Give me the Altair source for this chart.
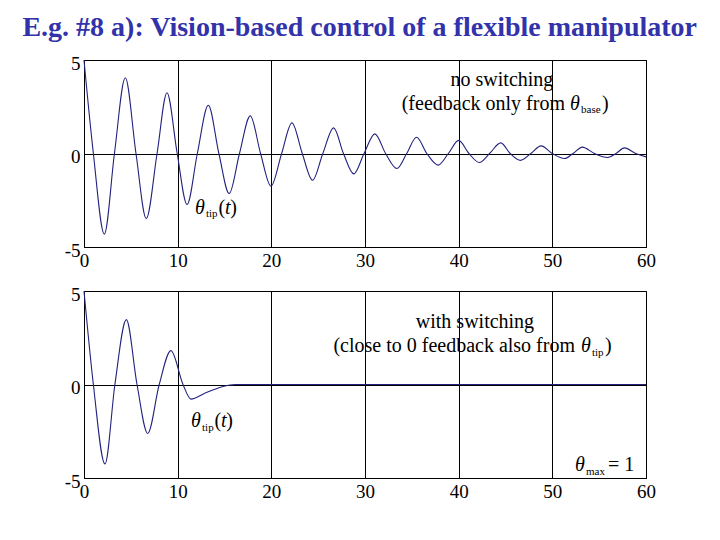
import altair as alt
import pandas as pd

FONT = "'Liberation Serif', 'Times New Roman', Times, serif"
LINE_COLOR = "#22227e"
TITLE_COLOR = "#3232aa"

X_TICKS = [0, 10, 20, 30, 40, 50, 60]
Y_TICKS = [-5, 0, 5]

# Top panel: no switching (extrema and zero crossings)
t_top = [0, 1.0, 2.17, 3.25, 4.41, 5.55, 6.65, 7.8, 8.86, 9.95, 11.0, 12.1, 13.27, 14.4,
         15.5, 16.6, 17.75, 18.85, 19.96, 21.1, 22.2, 23.3, 24.4, 25.5, 26.65, 27.7,
         28.8, 29.9, 31.05, 32.2, 33.4, 34.45, 35.5, 36.6, 37.8, 38.9, 40.0, 41.1,
         42.2, 43.3, 44.5, 45.5, 46.6, 47.7, 48.8, 50.0, 51.3, 52.2, 53.2, 54.5,
         55.9, 56.8, 57.7, 58.9, 60]
y_top = [5.0, 0, -4.31, 0, 4.05, 0, -3.48, 0, 3.25, 0, -2.73, 0, 2.58, 0,
         -2.14, 0, 2.01, 0, -1.75, 0, 1.64, 0, -1.43, 0, 1.37, 0,
         -1.09, 0, 1.05, 0, -0.80, 0, 0.87, 0, -0.62, 0, 0.70, 0,
         -0.48, 0, 0.57, 0, -0.37, 0, 0.41, 0, -0.27, 0, 0.34, 0,
         -0.21, 0, 0.30, 0, -0.18]

# Bottom panel: with switching
t_bot = [0, 1.0, 2.24, 3.3, 4.52, 5.66, 6.8, 8.03, 9.28, 10.57, 11.42, 12.85, 14.27, 15.4, 16.2, 60]
y_bot = [5.0, 0, -4.25, 0, 3.47, 0, -2.62, 0, 1.81, 0, -0.78, -0.48, -0.20, -0.04, 0, 0]

# Annotation pieces: text, t, y, style, align, size
ann_top = [
    ("no switching", 44.62, 3.63, "normal", "center", 20),
    ("(feedback only from", 51.35, 2.35, "normal", "right", 20),
    ("θ", 51.88, 2.35, "italic", "left", 20),
    ("base", 53.06, 2.14, "normal", "left", 11),
    (")", 55.3, 2.35, "normal", "left", 20),
    ("θ", 11.85, -3.24, "italic", "left", 20),
    ("tip", 13.02, -3.42, "normal", "left", 11),
    ("(", 14.35, -3.24, "normal", "left", 20),
    ("t", 15.05, -3.24, "italic", "left", 20),
    (")", 15.62, -3.24, "normal", "left", 20),
]
ann_bot = [
    ("with switching", 41.74, 3.0, "normal", "center", 20),
    ("(close to 0 feedback also from", 52.42, 1.73, "normal", "right", 20),
    ("θ", 53.06, 1.73, "italic", "left", 20),
    ("tip", 54.23, 1.53, "normal", "left", 11),
    (")", 55.62, 1.73, "normal", "left", 20),
    ("θ", 11.42, -2.26, "italic", "left", 20),
    ("tip", 12.6, -2.46, "normal", "left", 11),
    ("(", 13.93, -2.26, "normal", "left", 20),
    ("t", 14.63, -2.26, "italic", "left", 20),
    (")", 15.2, -2.26, "normal", "left", 20),
    ("θ", 52.42, -4.65, "italic", "left", 20),
    ("max", 53.59, -4.85, "normal", "left", 11),
    ("= 1", 55.94, -4.65, "normal", "left", 20),
]


def panel(t, y, pieces):
    df = pd.DataFrame({"t": t, "y": y})
    x_enc = alt.X("t:Q", title=None,
                  scale=alt.Scale(domain=[0, 60], nice=False, zero=False),
                  axis=alt.Axis(values=X_TICKS))
    y_enc = alt.Y("y:Q", title=None,
                  scale=alt.Scale(domain=[-5, 5], nice=False),
                  axis=alt.Axis(values=Y_TICKS, format="d", labelOffset=3,
                                labelExpr="replace(datum.label, '−', '-')"))
    layers = [alt.Chart(df).mark_line(color=LINE_COLOR, strokeWidth=1.1,
                                      interpolate="monotone").encode(x=x_enc, y=y_enc)]
    ann = pd.DataFrame(pieces, columns=["label", "t", "y", "style", "align", "size"])
    for style in ["normal", "italic"]:
        for align in ["left", "right", "center"]:
            sub = ann[(ann["style"] == style) & (ann["align"] == align)]
            if len(sub) == 0:
                continue
            layers.append(
                alt.Chart(sub).mark_text(align=align, baseline="alphabetic",
                                         fontStyle=style, font=FONT, color="black")
                .encode(x=alt.X("t:Q", title=None), y=alt.Y("y:Q", title=None),
                        text="label:N", size=alt.Size("size:Q", scale=None))
            )
    return alt.layer(*layers).properties(width=562, height=187)


top = panel(t_top, y_top, ann_top)
bot = panel(t_bot, y_bot, ann_bot)

chart = (
    alt.vconcat(top, bot, spacing=11)
    .properties(
        title=alt.TitleParams(
            "E.g. #8 a): Vision-based control of a flexible manipulator",
            font=FONT, fontSize=28, fontWeight="bold", color=TITLE_COLOR,
            anchor="middle", offset=9, dx=25, dy=-3,
        ),
        padding={"left": 5, "top": 5, "right": 5, "bottom": 5},
    )
    .configure_view(stroke="black", strokeWidth=1)
    .configure_axis(
        grid=True, gridColor="black", gridOpacity=1, gridWidth=1,
        ticks=False, domain=False,
        labelFont=FONT, labelFontSize=19, labelColor="black",
        labelPadding=4, labelFlush=False,
    )
    .configure_axisX(minExtent=25, maxExtent=25)
    .configure_axisY(minExtent=70, maxExtent=70)
)

chart.save("out.html", embed_options={"renderer": "svg", "actions": False})
